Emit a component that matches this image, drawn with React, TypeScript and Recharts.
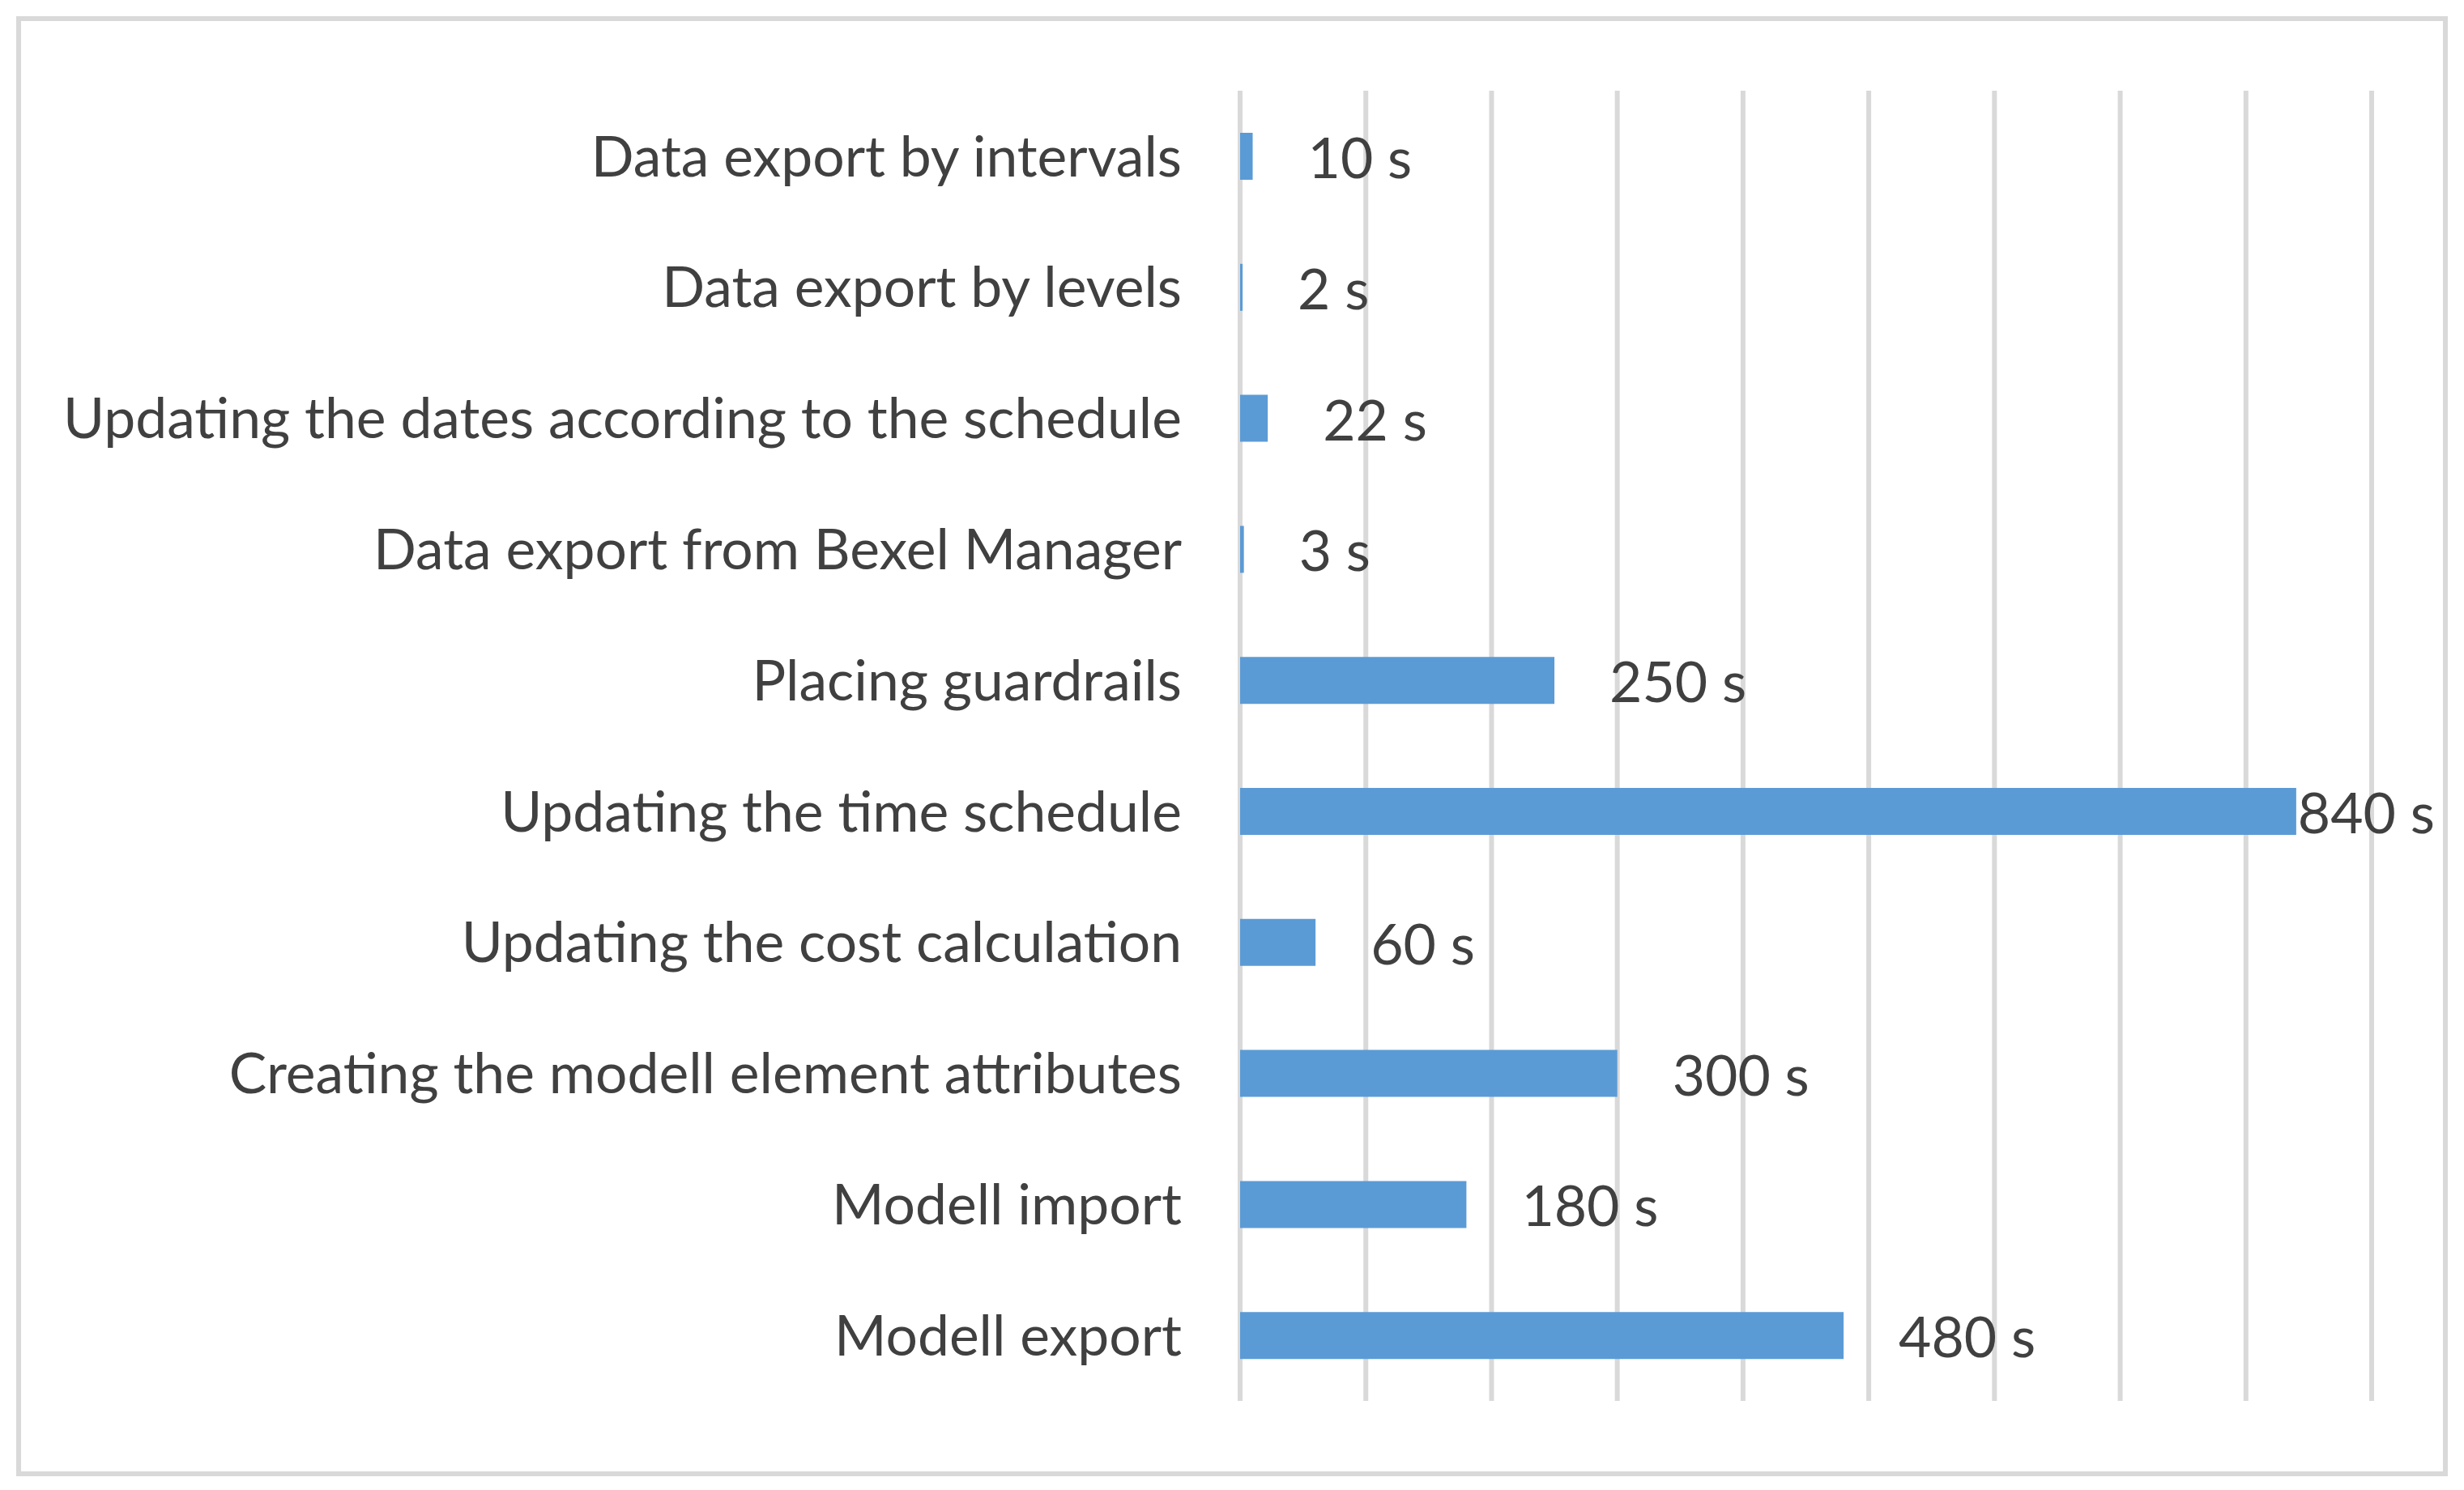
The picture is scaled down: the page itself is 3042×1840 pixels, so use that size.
import React from "react";
import {
  Bar,
  BarChart,
  CartesianGrid,
  LabelList,
  XAxis,
  YAxis,
} from "recharts";

// ---------------------------------------------------------------------------
// Data (top to bottom, as shown)
// ---------------------------------------------------------------------------

const categories = [
  "Data export by intervals",
  "Data export by levels",
  "Updating the dates according to the schedule",
  "Data export from Bexel Manager",
  "Placing guardrails",
  "Updating the time schedule",
  "Updating the cost calculation",
  "Creating the modell element attributes",
  "Modell import",
  "Modell export",
];

const seconds = [10, 2, 22, 3, 250, 840, 60, 300, 180, 480];

const valueLabels = ["10 s", "2 s", "22 s", "3 s", "250 s", "840 s", "60 s", "300 s", "180 s", "480 s"];

const xTicks = [0, 100, 200, 300, 400, 500, 600, 700, 800, 900];

const data = categories.map((name, i) => ({
  name,
  value: seconds[i],
  label: valueLabels[i],
}));

// ---------------------------------------------------------------------------
// Styling
// ---------------------------------------------------------------------------

const W = 3042;
const H = 1840;
const FONT = "Lato, 'Open Sans', sans-serif";
const FONT_SIZE = 69.6;
const TEXT = "#404040";
const GRID = "#d9d9d9";
const BAR = "#5b9bd5";
const LABEL_GAP = 68;
const LABEL_RIGHT_LIMIT = 2995;

function ValueLabel(props: any) {
  const { x, y, width, height, value } = props;
  const text = String(value);
  const estWidth = text.length * FONT_SIZE * 0.5;
  let lx = x + width + LABEL_GAP;
  if (lx + estWidth > LABEL_RIGHT_LIMIT) lx = x + width + 2;
  return (
    <text
      x={lx}
      y={y + height / 2}
      fill={TEXT}
      fontSize={FONT_SIZE}
      fontFamily={FONT}
      dominantBaseline="central"
      textAnchor="start"
    >
      {text}
    </text>
  );
}

// the value axis has no visible labels; ticks only drive the gridlines
const NoTick = () => <g />;

export default function App() {
  return (
    <div
      style={{
        position: "absolute",
        left: 0,
        top: 0,
        width: W,
        height: H,
        background: "#ffffff",
      }}
    >
      {/* outer chart frame */}
      <div
        style={{
          position: "absolute",
          left: 20,
          top: 20,
          width: 3002,
          height: 1803,
          border: `6px solid ${GRID}`,
          boxSizing: "border-box",
        }}
      />
      <div style={{ position: "absolute", left: 0, top: 0 }}>
        <BarChart
          width={W}
          height={H}
          data={data}
          layout="vertical"
          margin={{ top: 112, right: 114, bottom: 109, left: 0 }}
        >
          <CartesianGrid
            horizontal={false}
            stroke={GRID}
            strokeWidth={6}
          />
          <XAxis
            type="number"
            domain={[0, 900]}
            ticks={xTicks}
            interval={0}
            tick={NoTick}
            axisLine={false}
            tickLine={false}
            height={1}
          />
          <YAxis
            type="category"
            dataKey="name"
            width={1531}
            axisLine={false}
            tickLine={false}
            tickMargin={66}
            interval={0}
            tick={{ fill: TEXT, fontSize: FONT_SIZE, fontFamily: FONT }}
          />
          <Bar
            dataKey="value"
            fill={BAR}
            barSize={58}
            isAnimationActive={false}
          >
            <LabelList dataKey="label" content={ValueLabel} />
          </Bar>
        </BarChart>
      </div>
    </div>
  );
}
